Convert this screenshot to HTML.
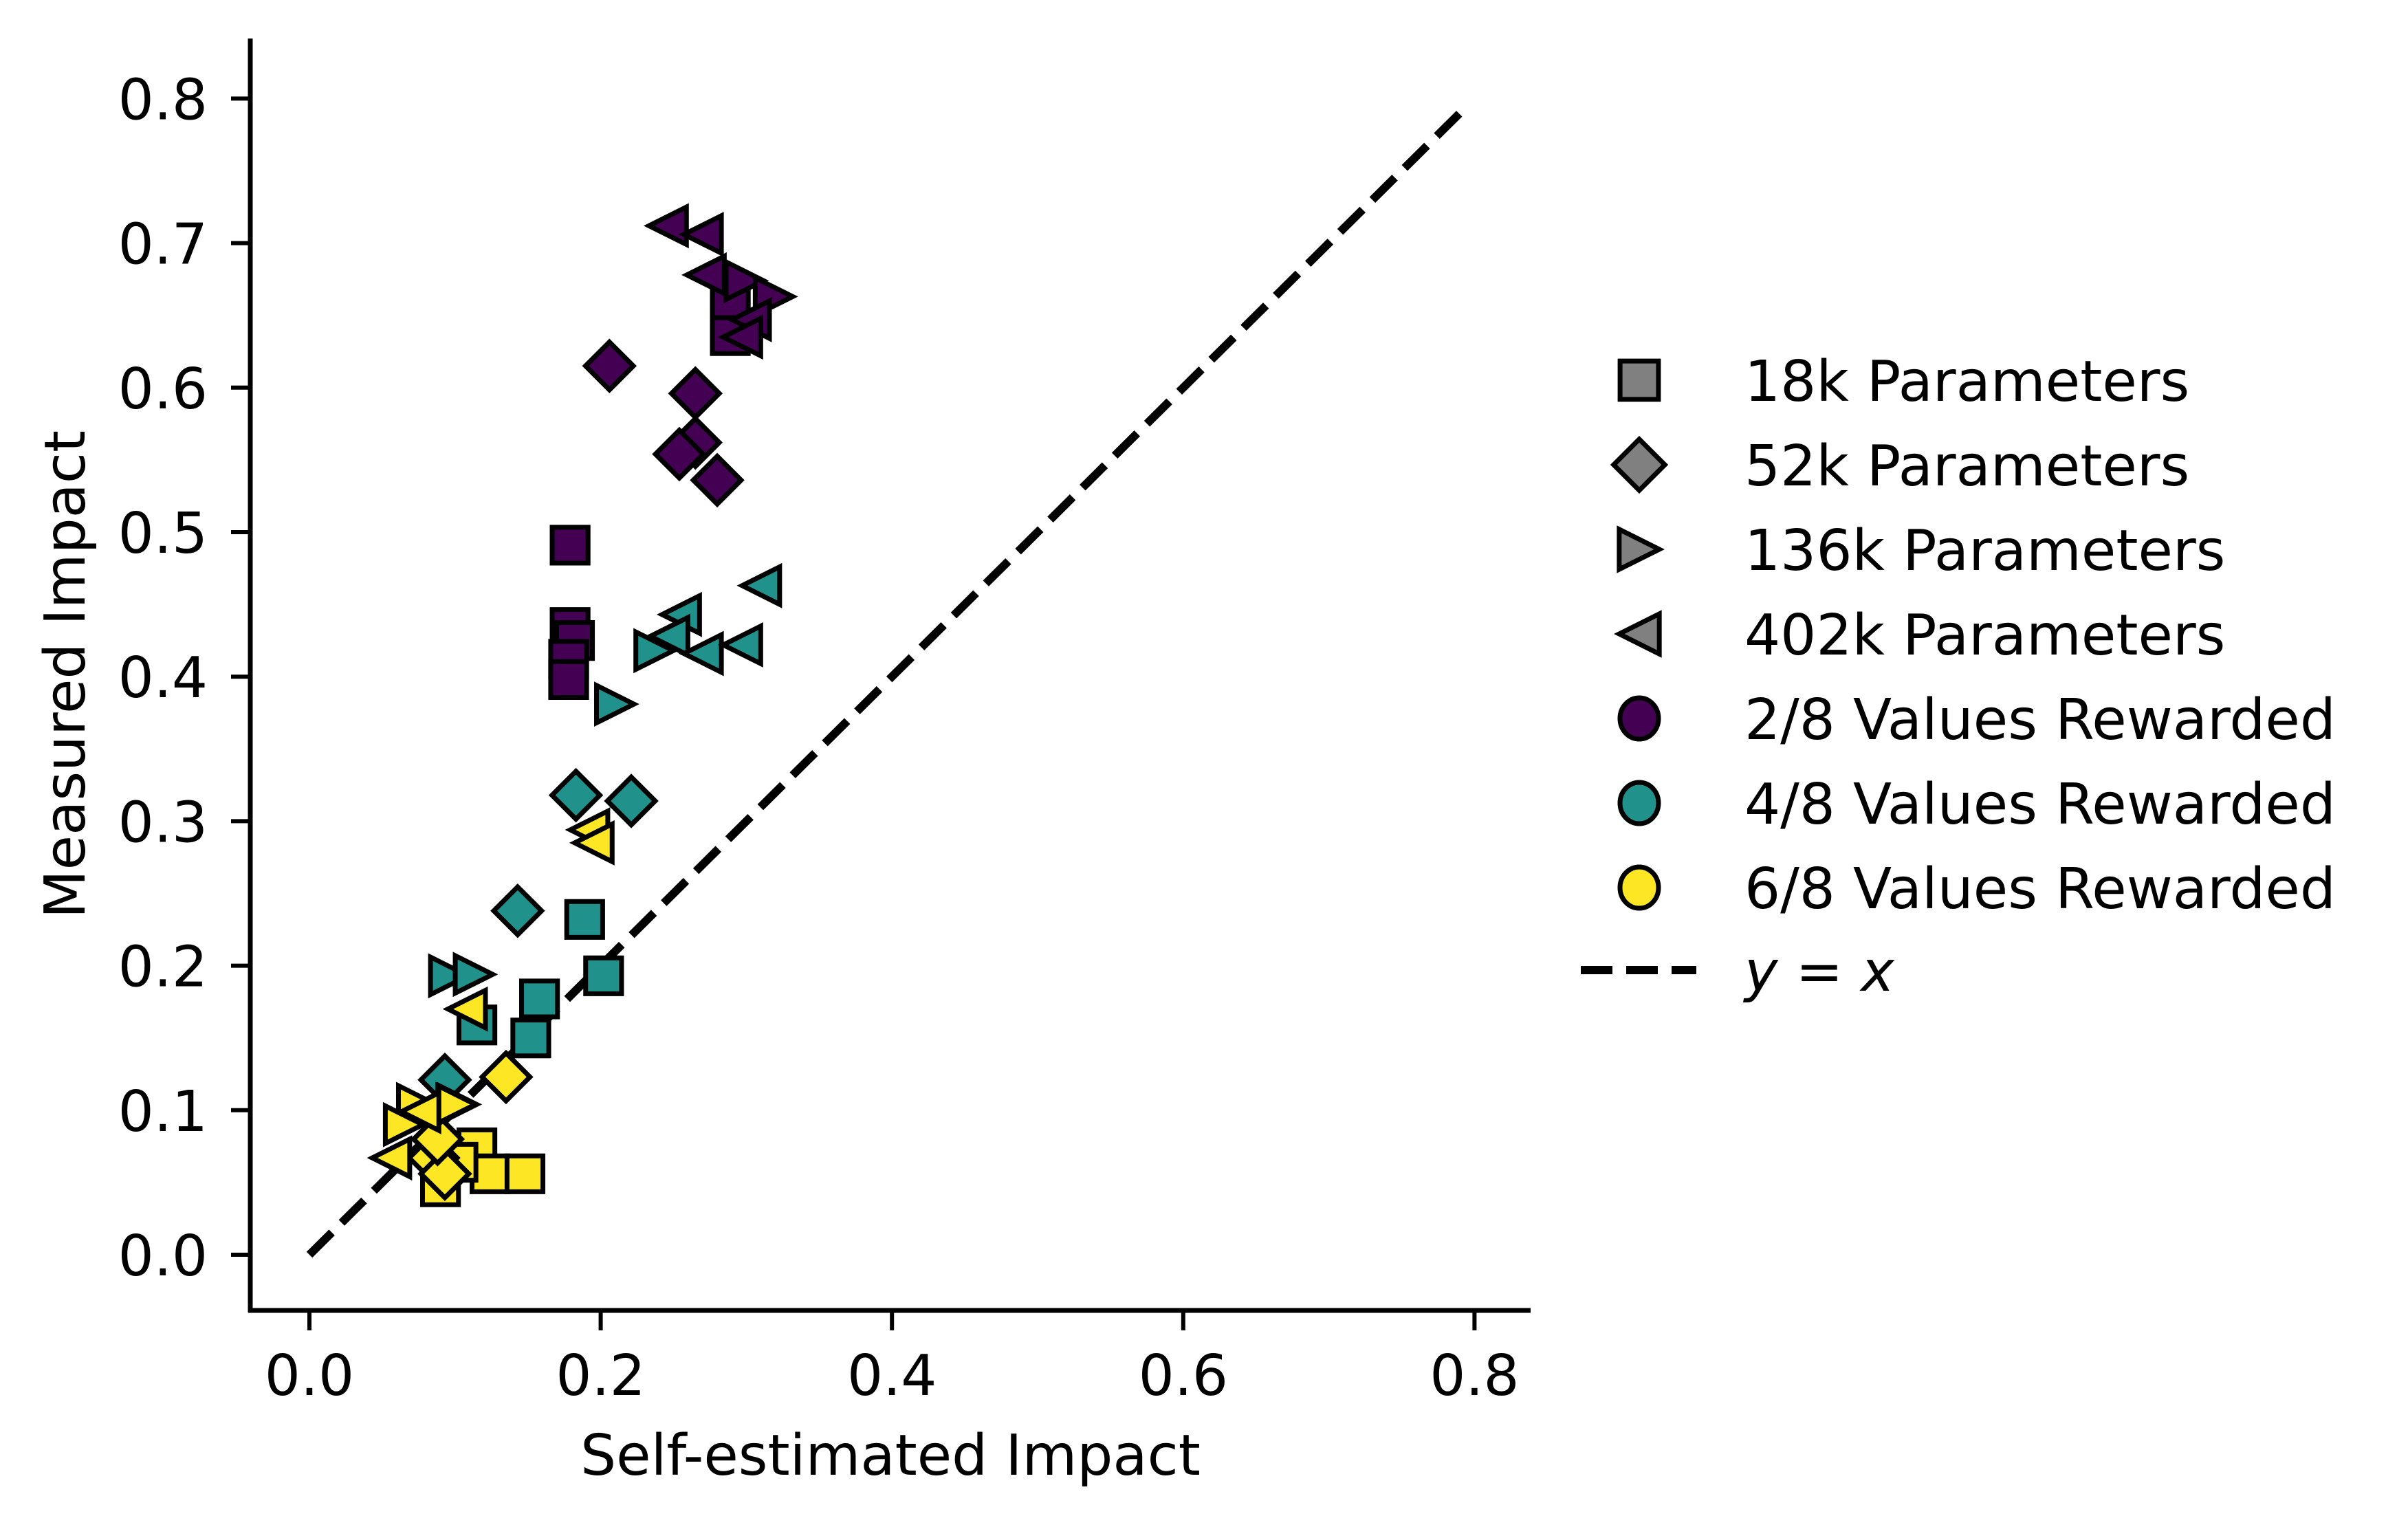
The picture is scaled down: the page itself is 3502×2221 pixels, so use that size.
<!DOCTYPE html>
<html><head><meta charset="utf-8"><style>
html,body{margin:0;padding:0;background:#fff;}
svg{display:block;font-family:"DejaVu Sans","Liberation Sans",sans-serif;}
</style></head><body>
<svg id="chart" width="3502" height="2221" viewBox="0 0 3502 2221" xmlns="http://www.w3.org/2000/svg">
<rect width="3502" height="2221" fill="#fff"/>
<g id="marks"></g>
<g id="axes"></g>
<g id="legend"></g>
</svg>
<script>
// data arrays
const squareX = [0.289,0.289,0.179,0.179,0.182,0.178,0.178, 0.189,0.202,0.158,0.115,0.152, 0.115,0.124,0.148,0.090,0.102];
const squareY = [0.659,0.636,0.491,0.434,0.425,0.412,0.398, 0.232,0.193,0.177,0.159,0.150, 0.074,0.056,0.056,0.047,0.064];
const squareG = [0,0,0,0,0,0,0, 1,1,1,1,1, 2,2,2,2,2];
const diamondX = [0.206,0.265,0.265,0.254,0.280, 0.183,0.221,0.143,0.093, 0.135,0.085,0.093,0.088];
const diamondY = [0.615,0.596,0.562,0.554,0.536, 0.318,0.314,0.238,0.121, 0.123,0.067,0.056,0.080];
const diamondG = [0,0,0,0,0, 1,1,1,1, 2,2,2,2];
const rightX = [0.299,0.319, 0.210,0.237,0.096,0.113,0.102, 0.074,0.065,0.101];
const rightY = [0.674,0.663, 0.381,0.418,0.193,0.194,0.104, 0.104,0.090,0.104];
const rightG = [0,0, 1,1,1,1,1, 2,2,2];
const leftX = [0.246,0.270,0.272,0.303,0.297, 0.310,0.255,0.247,0.270,0.297, 0.192,0.195,0.108,0.076,0.056];
const leftY = [0.712,0.706,0.678,0.647,0.635, 0.463,0.443,0.428,0.416,0.422, 0.294,0.285,0.170,0.099,0.067];
const leftG = [0,0,0,0,0, 1,1,1,1,1, 2,2,2,2,2];
const groupColors = ["#440154","#21918c","#fde725"];
const xTicks = [0.0,0.2,0.4,0.6,0.8];
const yTicks = [0.0,0.1,0.2,0.3,0.4,0.5,0.6,0.7,0.8];
const paramLabels = ["18k Parameters","52k Parameters","136k Parameters","402k Parameters"];
const groupLabels = ["2/8 Values Rewarded","4/8 Values Rewarded","6/8 Values Rewarded"];

const NS="http://www.w3.org/2000/svg";
const X0=450, XS=2118, Y0=1825, YS=2102;
function sx(v){return X0+XS*v;}
function sy(v){return Y0-YS*v;}
function mk(tag,attrs,parent){const e=document.createElementNS(NS,tag);for(const k in attrs)e.setAttribute(k,attrs[k]);parent.appendChild(e);return e;}
const marks=document.getElementById('marks'), axes=document.getElementById('axes'), legend=document.getElementById('legend');

function shapePath(kind,cx,cy,s){
  if(kind==='square'){const h=s*0.45;return `M${cx-h},${cy-h}H${cx+h}V${cy+h}H${cx-h}Z`;}
  if(kind==='diamond'){const h=s*0.6;return `M${cx},${cy-h}L${cx+h},${cy}L${cx},${cy+h}L${cx-h},${cy}Z`;}
  if(kind==='right'){const h=s*0.47;return `M${cx-h},${cy-h}L${cx+h},${cy}L${cx-h},${cy+h}Z`;}
  const h=s*0.47;return `M${cx+h},${cy-h}L${cx-h},${cy}L${cx+h},${cy+h}Z`;
}
const S=58;
// dashed y=x line
const dl=mk('line',{x1:sx(0),y1:sy(0),x2:sx(0.795),y2:sy(0.795),stroke:'#000','stroke-width':12,'stroke-dasharray':'46 20'},marks);


function drawSeries(kind,xs,ys,gs){
  for(let i=0;i<xs.length;i++){
    const p=mk('path',{d:shapePath(kind,sx(xs[i]),sy(ys[i]),S),fill:groupColors[gs[i]],stroke:'#000','stroke-width':7,'stroke-linejoin':'miter'},marks);
    
    
  }
}
drawSeries('square',squareX,squareY,squareG);
drawSeries('diamond',diamondX,diamondY,diamondG);
drawSeries('right',rightX,rightY,rightG);
drawSeries('left',leftX,leftY,leftG);

// spines
const ls=mk('line',{x1:364,y1:56,x2:364,y2:1909,stroke:'#000','stroke-width':7},axes);


const bs=mk('line',{x1:361,y1:1906,x2:2226,y2:1906,stroke:'#000','stroke-width':7},axes);


xTicks.forEach(v=>{
  const t=mk('line',{x1:sx(v),y1:1906,x2:sx(v),y2:1935,stroke:'#000','stroke-width':6},axes);
  
  
  const l=mk('text',{x:sx(v),y:2029,'font-size':82,'text-anchor':'middle'},axes);
  l.textContent=v.toFixed(1);
  
  
});
yTicks.forEach(v=>{
  const t=mk('line',{x1:336,y1:sy(v),x2:364,y2:sy(v),stroke:'#000','stroke-width':6},axes);
  
  
  const l=mk('text',{x:302,y:sy(v)+30,'font-size':82,'text-anchor':'end'},axes);
  l.textContent=v.toFixed(1);
  
  
});
const xt=mk('text',{x:1295,y:2145,'font-size':82,'text-anchor':'middle'},axes);
xt.textContent='Self-estimated Impact';


const yt=mk('text',{x:0,y:0,'font-size':82,'text-anchor':'middle',transform:'translate(123,981) rotate(-90)'},axes);
yt.textContent='Measured Impact';



// legend
const rowY=[553,676,799,922,1045,1168,1291,1411];
const kinds=['square','diamond','right','left'];
paramLabels.forEach((lab,i)=>{
  const p=mk('path',{d:shapePath(kinds[i],2384,rowY[i],62),fill:'#808080',stroke:'#000','stroke-width':7},legend);
  
  
  const t=mk('text',{x:2537,y:rowY[i]+30,'font-size':82},legend);
  t.textContent=lab;
  
  
});
groupLabels.forEach((lab,i)=>{
  const c=mk('ellipse',{cx:2384,cy:rowY[4+i],rx:28,ry:30,fill:groupColors[i],stroke:'#000','stroke-width':7},legend);
  
  
  const t=mk('text',{x:2537,y:rowY[4+i]+30,'font-size':82},legend);
  t.textContent=lab;
  
  
});
const ll=mk('line',{x1:2299,y1:rowY[7],x2:2467,y2:rowY[7],stroke:'#000','stroke-width':12,'stroke-dasharray':'46 20'},legend);


const lt=mk('text',{x:2537,y:rowY[7]+30,'font-size':82,'font-style':'italic'},legend);
lt.textContent='y = x';


</script>
</body></html>
